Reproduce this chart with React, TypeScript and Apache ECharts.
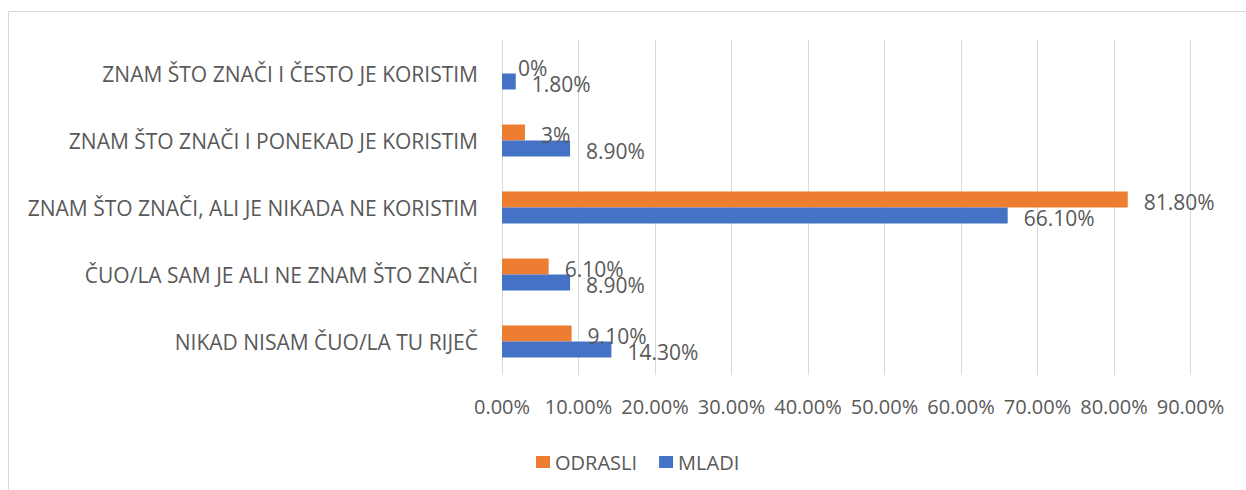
import React, { useEffect, useRef } from "react";
import * as echarts from "echarts";

const categories = [
  "ZNAM ŠTO ZNAČI I ČESTO JE KORISTIM",
  "ZNAM ŠTO ZNAČI I PONEKAD JE KORISTIM",
  "ZNAM ŠTO ZNAČI, ALI JE NIKADA NE KORISTIM",
  "ČUO/LA SAM JE ALI NE ZNAM ŠTO ZNAČI",
  "NIKAD NISAM ČUO/LA TU RIJEČ",
];
const odrasli = [0, 3, 81.8, 6.1, 9.1];
const odrasliLabels = ["0%", "3%", "81.80%", "6.10%", "9.10%"];
const mladi = [1.8, 8.9, 66.1, 8.9, 14.3];
const mladiLabels = ["1.80%", "8.90%", "66.10%", "8.90%", "14.30%"];
const xTicks = [0, 10, 20, 30, 40, 50, 60, 70, 80, 90];

const FONT = "'Open Sans', sans-serif";
const TXT = "#595959";

export default function App() {
  const ref = useRef<HTMLDivElement>(null);
  useEffect(() => {
    if (!ref.current) return;
    const chart = echarts.init(ref.current, undefined, { renderer: "svg" });
    chart.setOption({
      animation: false,
      textStyle: { fontFamily: FONT },
      graphic: [
        {
          type: "rect",
          shape: { x: 8.5, y: 11.5, width: 1400, height: 1000 },
          style: { fill: "none", stroke: "#d9d9d9", lineWidth: 1 },
          silent: true,
          z: -1,
        },
      ],
      legend: {
        data: ["ODRASLI", "MLADI"],
        left: 531,
        top: 447,
        itemWidth: 14,
        itemHeight: 12,
        itemGap: 22,
        icon: "rect",
        textStyle: { color: TXT, fontSize: 20, fontFamily: FONT, padding: [0, 0, 0, 0] },
      },
      grid: { left: 502, right: 55.5, top: 40, bottom: 115, containLabel: false },
      xAxis: {
        type: "value",
        min: 0,
        max: 90,
        interval: 10,
        axisLine: { show: false },
        axisTick: { show: false },
        splitLine: { show: true, lineStyle: { color: "#d9d9d9", width: 1 } },
        axisLabel: {
          color: TXT,
          fontSize: 20,
          fontFamily: FONT,
          margin: 21,
          formatter: (v: number) => (xTicks.includes(v) ? v.toFixed(2) + "%" : ""),
        },
      },
      yAxis: {
        type: "category",
        data: categories,
        inverse: true,
        axisLine: { show: false },
        axisTick: { show: false },
        axisLabel: { color: TXT, fontSize: 21, fontFamily: FONT, margin: 24 },
      },
      series: [
        {
          name: "ODRASLI",
          type: "bar",
          data: odrasli,
          barWidth: 16,
          barGap: "0%",
          itemStyle: { color: "#ED7D31" },
          label: {
            show: true,
            position: "right",
            distance: 16,
            offset: [0, 2],
            color: TXT,
            fontSize: 21,
            fontFamily: FONT,
            formatter: (p: any) => odrasliLabels[p.dataIndex],
          },
        },
        {
          name: "MLADI",
          type: "bar",
          data: mladi,
          barWidth: 16,
          barGap: "0%",
          itemStyle: { color: "#4472C4" },
          label: {
            show: true,
            position: "right",
            distance: 16,
            offset: [0, 2],
            color: TXT,
            fontSize: 21,
            fontFamily: FONT,
            formatter: (p: any) => mladiLabels[p.dataIndex],
          },
        },
      ],
    });
    return () => chart.dispose();
  }, []);
  return (
    <div
      ref={ref}
      style={{ position: "absolute", left: 0, top: 0, width: 1246, height: 490 }}
    />
  );
}
